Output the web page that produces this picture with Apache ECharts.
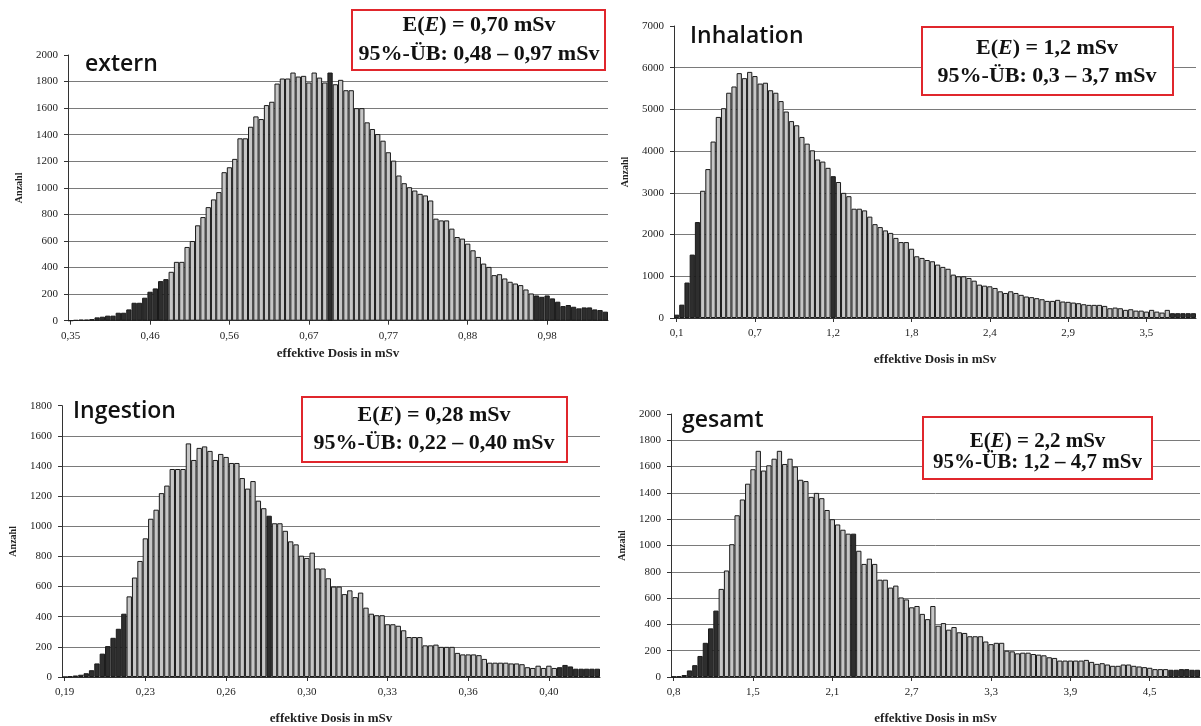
<!DOCTYPE html>
<html><head><meta charset="utf-8">
<script src="https://cdn.jsdelivr.net/npm/echarts@6/dist/echarts.min.js"></script>
<style>html,body{margin:0;padding:0;background:#fff;}#c{width:1201px;height:726px;}</style>
</head><body><div id="c"></div>
<script>
// ---------- DATA ----------
const externValues = [1,5,8,8,12,25,30,38,38,60,60,85,135,135,173,218,243,298,313,
  368,443,443,555,600,718,780,855,913,968,1118,1155,1218,1373,1373,1460,1538,1518,1623,1648,1785,1823,1823,1868,1838,1843,1793,1868,1830,1793,
  1868,
  1780,1813,1735,1735,1600,1600,1493,1443,1405,1355,1268,1205,1093,1035,1005,980,955,943,905,768,755,755,693,630,618,580,530,480,430,405,343,350,318,293,280,268,235,205,
  190,180,190,168,143,110,118,105,93,100,100,85,80,68];
const externDark = [[0,18],[49,49],[88,101]];
const externTicks = ['0,35','0,46','0,56','0,67','0,77','0,88','0,98'];

const inhalationValues = [80,320,850,1520,2300,
  3050,3570,4230,4820,5030,5400,5550,5870,5750,5900,5800,5620,5640,5460,5400,5200,4950,4720,4620,4340,4180,4020,3800,3750,3600,
  3400,
  3260,3000,2920,2620,2620,2580,2430,2250,2180,2100,2040,1920,1820,1820,
  1660,1480,1440,1390,1360,1280,1225,1180,1040,1000,1000,960,895,800,775,760,720,640,600,640,600,555,515,500,475,450,410,410,435,395,387,370,355,330,315,315,315,290,234,250,234,195,210,177,177,153,195,153,130,195,
  115,115,115,115,115];
const inhalationDark = [[0,4],[30,30],[95,99]];
const inhalationTicks = ['0,1','0,7','1,2','1,8','2,4','2,9','3,5'];

const ingestionValues = [0,5,10,15,25,45,90,155,205,260,320,420,
  535,660,770,920,1050,1110,1220,1270,1380,1380,1380,1550,1440,1520,1530,1500,1440,1480,1460,1420,1420,1320,1250,1300,1170,1120,
  1070,
  1020,1020,970,900,880,
  805,790,825,720,720,655,600,600,550,575,530,560,460,420,410,410,350,350,340,310,265,265,265,210,210,215,200,200,200,160,150,150,150,145,120,95,95,95,95,90,90,85,65,60,75,60,75,60,
  65,80,70,55,55,55,55,55];
const ingestionDark = [[0,11],[38,38],[92,99]];
const ingestionTicks = ['0,19','0,23','0,26','0,30','0,33','0,36','0,40'];

const gesamtValues = [3,5,15,50,90,160,260,370,505,
  670,810,1010,1230,1350,1470,1580,1720,1570,1610,1660,1720,1620,1660,1600,1500,1490,1370,1400,1360,1270,1200,1160,1120,1090,
  1090,
  960,860,900,860,740,740,680,695,605,590,530,
  540,480,440,540,390,410,360,380,340,335,310,310,310,270,250,260,260,200,195,180,185,185,175,170,165,150,145,125,125,125,125,125,130,115,100,105,95,85,85,95,95,85,80,75,70,60,60,60,
  55,55,60,60,55,55];
const gesamtDark = [[0,8],[34,34],[94,99]];
const gesamtTicks = ['0,8','1,5','2,1','2,7','3,3','3,9','4,5'];

const titles = ['extern','Inhalation','Ingestion','gesamt'];
const meanTexts = ['0,70 mSv','1,2 mSv','0,28 mSv','2,2 mSv'];
const rangeTexts = ['95%-ÜB: 0,48 – 0,97 mSv','95%-ÜB: 0,3 – 3,7 mSv','95%-ÜB: 0,22 – 0,40 mSv','95%-ÜB: 1,2 – 4,7 mSv'];
const yMax = [2000,7000,1800,2000];
const yStep = [200,1000,200,200];
const xName = 'effektive Dosis in mSv';
const yName = 'Anzahl';
const labelEvery = 15;

// ---------- LAYOUT / STYLE ----------
const LIGHT = '#c6c6c6', DARK = '#2e2e2e', EDGE = '#1a1a1a';
const SERIF = '"Liberation Serif","Times New Roman",serif';
const panels = [
  {vals: externValues, dark: externDark, ticks: externTicks, grid:{left:68, top:55, width:540, height:265.7}, nameGap:26, box:{x:352,y:10,w:253,h:60,cx:479,l1:25.5,l2:54.5,fs:22}, title:{x:85,y:64.5}},
  {vals: inhalationValues, dark: inhalationDark, ticks: inhalationTicks, grid:{left:674, top:26, width:522, height:292}, nameGap:35, box:{x:922,y:27,w:251,h:68,cx:1047,l1:48,l2:76,fs:22}, title:{x:690,y:36.5}},
  {vals: ingestionValues, dark: ingestionDark, ticks: ingestionTicks, grid:{left:62, top:405.7, width:538, height:272.6}, nameGap:35, box:{x:302,y:397,w:265,h:65,cx:434,l1:415,l2:443.5,fs:22}, title:{x:73,y:411}},
  {vals: gesamtValues, dark: gesamtDark, ticks: gesamtTicks, grid:{left:671, top:414, width:529, height:264.3}, nameGap:35, box:{x:923,y:417,w:229,h:62,cx:1037.5,l1:441.5,l2:462.5,fs:21}, title:{x:682,y:420.5}}
];

function isDark(ranges, i){ return ranges.some(r => i >= r[0] && i <= r[1]); }

const option = {
  animation: false,
  backgroundColor: '#fff',
  grid: [], xAxis: [], yAxis: [], series: [], graphic: []
};

panels.forEach((p, k) => {
  option.grid.push(Object.assign({containLabel:false}, p.grid));
  const cats = p.vals.map((v, i) => String(i));
  option.xAxis.push({
    type: 'category', gridIndex: k, data: cats, boundaryGap: true,
    axisLine: {show: true, lineStyle: {color: '#333', width: 1}},
    axisTick: {show: true, interval: labelEvery - 1, alignWithLabel: true, length: 4, lineStyle:{color:'#333'}},
    axisLabel: {interval: labelEvery - 1, margin: 10, color: '#222', fontFamily: SERIF, fontSize: 11,
      formatter: (v, idx) => p.ticks[Math.round(idx / labelEvery)] || ''},
    splitLine: {show: false},
    name: xName, nameLocation: 'middle', nameGap: p.nameGap,
    nameTextStyle: {fontFamily: SERIF, fontWeight: 'bold', fontSize: 13, color: '#222'}
  });
  option.yAxis.push({
    type: 'value', gridIndex: k, min: 0, max: yMax[k], interval: yStep[k],
    axisLine: {show: true, lineStyle: {color: '#333', width: 1}},
    axisTick: {show: true, length: 4, lineStyle:{color:'#333'}},
    axisLabel: {margin: 10, color: '#222', fontFamily: SERIF, fontSize: 11, formatter: v => String(v)},
    splitLine: {show: true, showMaxLine: false, lineStyle: {color: '#7a7a7a', width: 1}},
    name: yName, nameLocation: 'middle', nameGap: 44, nameRotate: 90,
    nameTextStyle: {fontFamily: SERIF, fontWeight: 'bold', fontSize: 10, color: '#222'}
  });
  option.series.push({
    type: 'bar', xAxisIndex: k, yAxisIndex: k, barCategoryGap: '0%', silent: true,
    itemStyle: {color: LIGHT, borderColor: EDGE, borderWidth: 1},
    data: p.vals.map((v, i) => isDark(p.dark, i) ? {value: v, itemStyle: {color: DARK}} : v)
  });
  option.graphic.push({type:'text', x: p.title.x, y: p.title.y, z: 50,
    style: {text: titles[k], fontFamily: '"Open Sans","Noto Sans",sans-serif', fontWeight: 600, fontSize: 23, fill: '#111', align: 'left', verticalAlign: 'middle'}});
  const b = p.box;
  option.graphic.push({type:'rect', z: 60, shape:{x: b.x, y: b.y, width: b.w, height: b.h},
    style:{fill:'#fff', stroke:'#e0262c', lineWidth: 2}});
  option.graphic.push({type:'text', z: 61, x: b.cx, y: b.l1,
    style:{text: '{n|E(}{i|E}{n|) = ' + meanTexts[k] + '}', align:'center', verticalAlign:'middle',
      rich:{n:{fontFamily: SERIF, fontWeight:'bold', fontSize: b.fs, fill:'#111'},
            i:{fontFamily: SERIF, fontWeight:'bold', fontStyle:'italic', fontSize: b.fs, fill:'#111'}}}});
  option.graphic.push({type:'text', z: 61, x: b.cx, y: b.l2,
    style:{text: rangeTexts[k], align:'center', verticalAlign:'middle',
      fontFamily: SERIF, fontWeight:'bold', fontSize: b.fs, fill:'#111'}});
});

const chart = echarts.init(document.getElementById('c'), null, {renderer: 'canvas'});
chart.setOption(option);
</script>
</body></html>
